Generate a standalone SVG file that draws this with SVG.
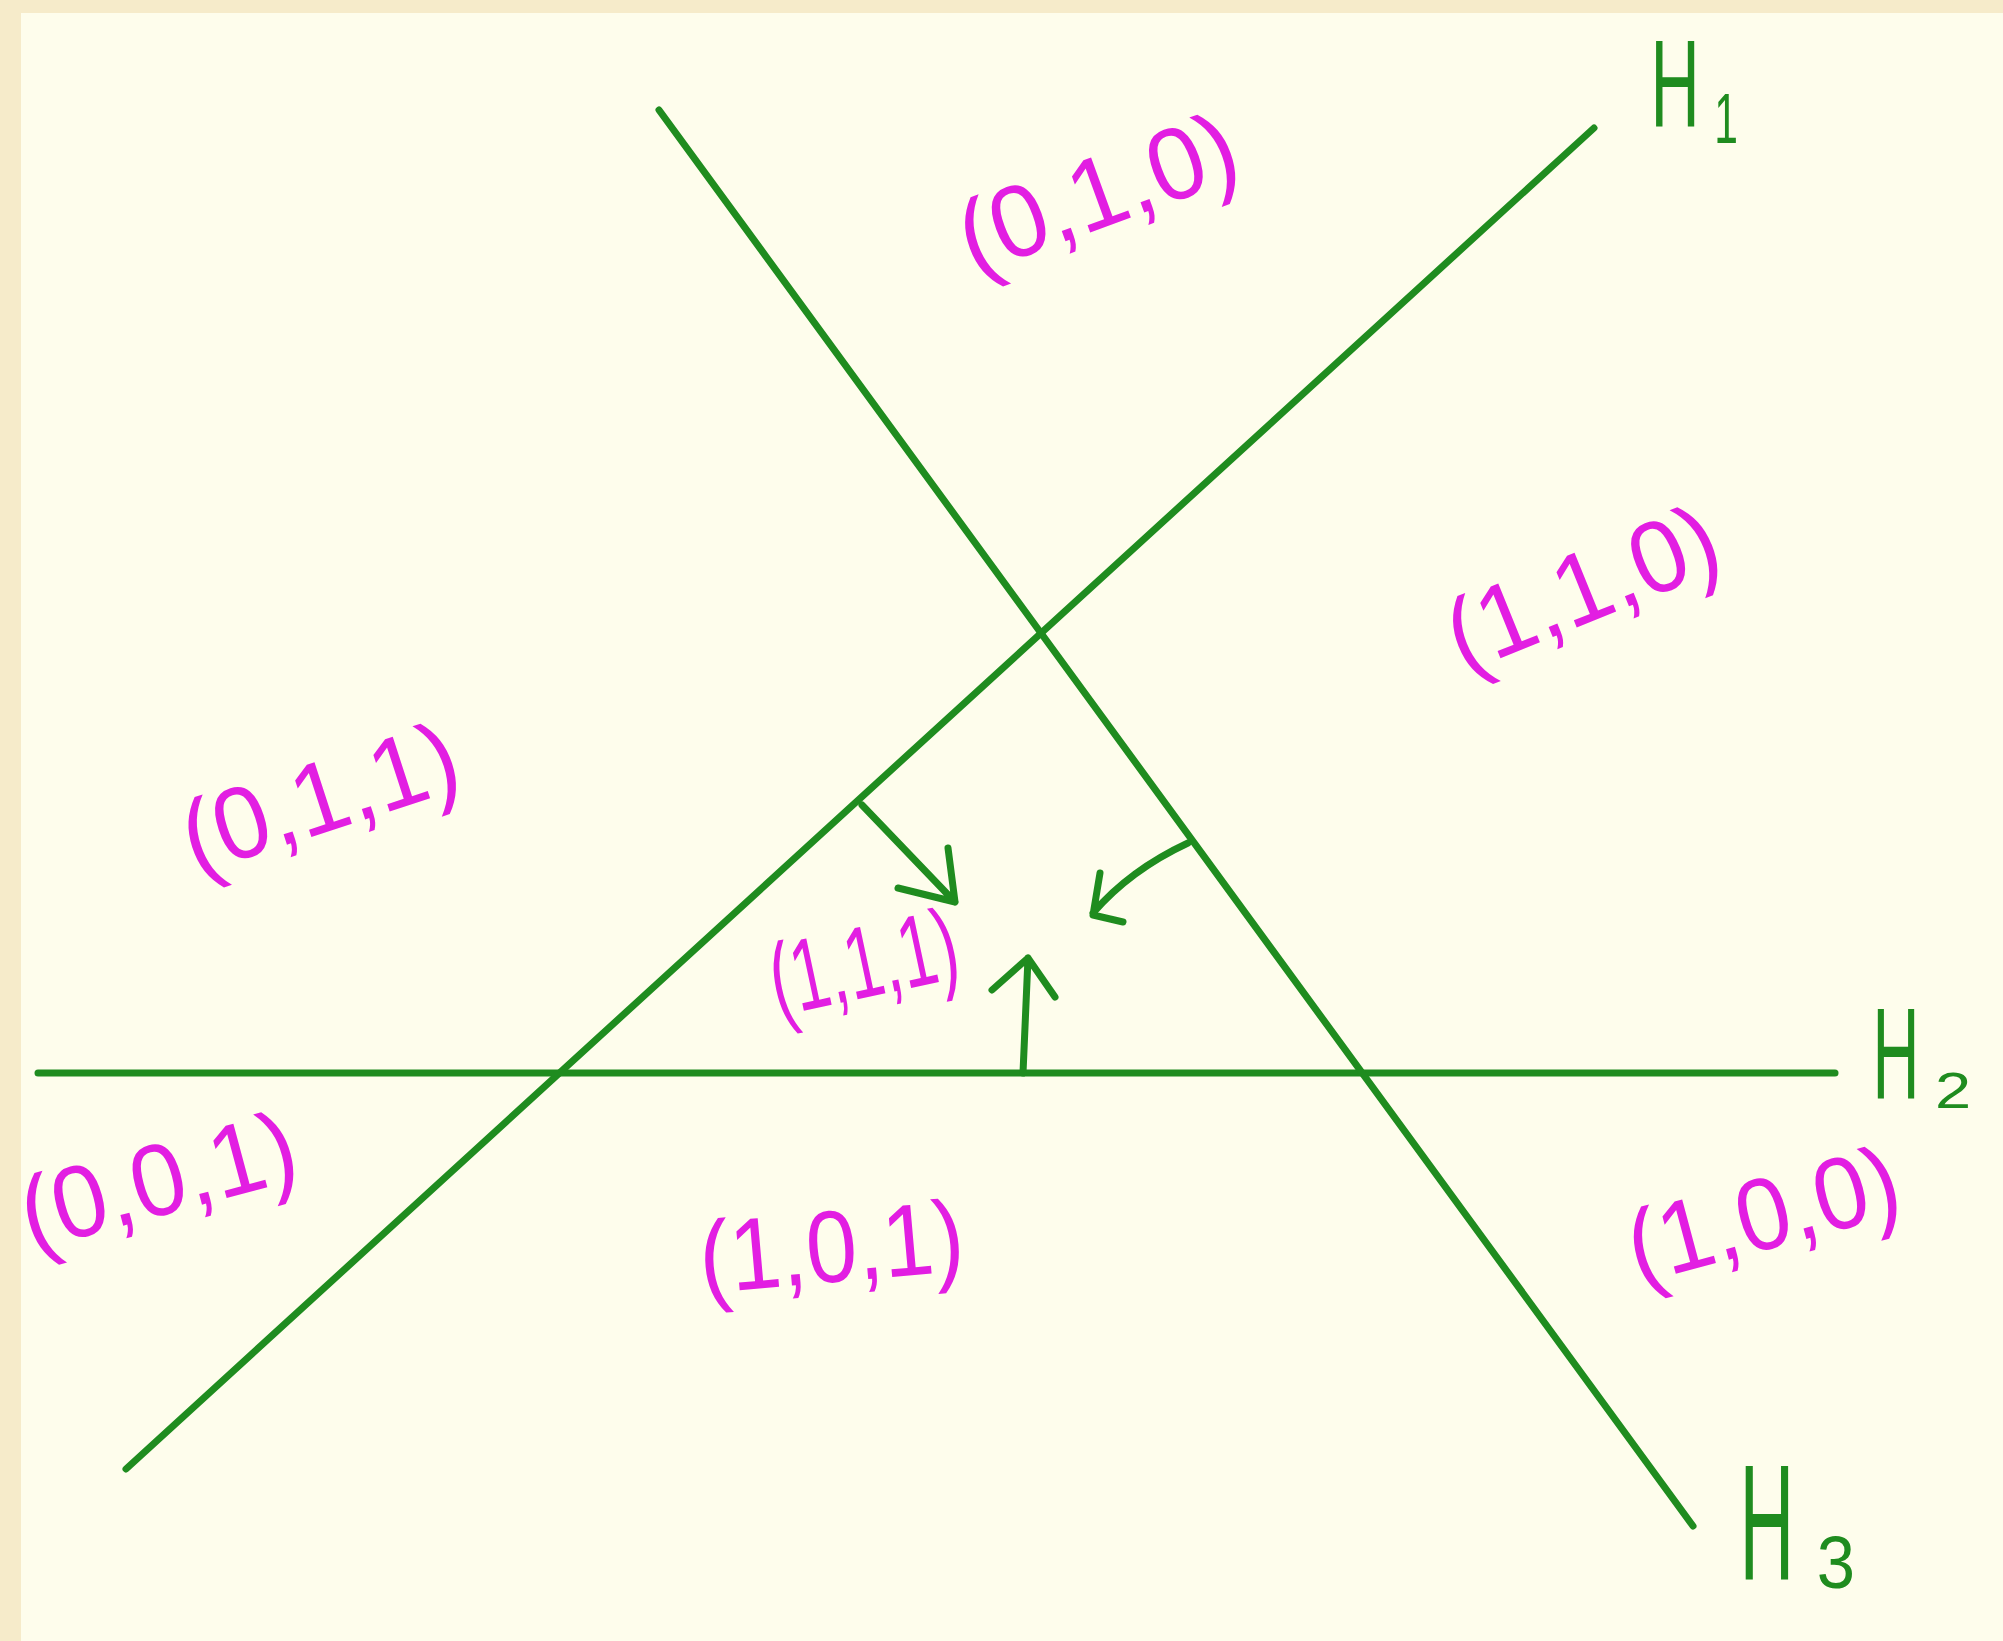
<svg xmlns="http://www.w3.org/2000/svg" width="2003" height="1641" viewBox="0 0 2003 1641">
<style>
.ln{stroke:#1f8c1f;stroke-width:7;stroke-linecap:round;stroke-linejoin:round;fill:none}
.hl{font-family:"Liberation Sans",Arial,sans-serif;fill:#1f8c1f;text-anchor:middle}
.tp{font-family:"Liberation Sans",Arial,sans-serif;fill:#e21ee2;text-anchor:middle;font-size:102px}
</style>
<rect x="0" y="0" width="2003" height="1641" fill="#f6ebca"/>
<rect x="21" y="13" width="1982" height="1628" fill="#fefdec"/>
<g id="hyperplanes">
<line class="ln" x1="126" y1="1469" x2="1594" y2="128"/>
<line class="ln" x1="38" y1="1073" x2="1835" y2="1073"/>
<line class="ln" x1="659" y1="110" x2="1693" y2="1526"/>
</g>
<g id="connectors">
<path class="ln" d="M862 805 L955 902 M898 888 L955 902 L948 848"/>
<path class="ln" d="M1188 843 Q1130 870 1093 913 M1100 873 L1093 915 L1123 922"/>
<path class="ln" d="M1023 1073 L1028 958 M992 990 L1028 958 L1055 997"/>
</g>
<g id="label-H1">
<text class="hl" font-size="124" transform="translate(1675,127) scale(0.55,1)">H</text>
<text class="hl" font-size="71" transform="translate(1726,143) scale(0.6,1)">1</text>
</g>
<g id="label-H2">
<text class="hl" font-size="130" transform="translate(1896,1098) scale(0.5,1)">H</text>
<text class="hl" font-size="50" transform="translate(1953,1108) scale(1.3,1)">2</text>
</g>
<g id="label-H3">
<text class="hl" font-size="165" transform="translate(1767,1580) scale(0.46,1)">H</text>
<text class="hl" font-size="74" transform="translate(1836,1588) scale(0.93,1)">3</text>
</g>
<g id="region-010"><text class="tp" transform="translate(1100,200) rotate(-20)" y="27" textLength="290" lengthAdjust="spacingAndGlyphs">(0,1,0)</text></g>
<g id="region-110"><text class="tp" transform="translate(1585,595) rotate(-22)" y="27" textLength="285" lengthAdjust="spacingAndGlyphs">(1,1,0)</text></g>
<g id="region-011"><text class="tp" transform="translate(322,805) rotate(-18)" y="27" textLength="285" lengthAdjust="spacingAndGlyphs">(0,1,1)</text></g>
<g id="region-111"><text class="tp" font-size="84" transform="translate(866,975) rotate(-12)" y="22" textLength="190" lengthAdjust="spacingAndGlyphs">(1,1,1)</text></g>
<g id="region-001"><text class="tp" transform="translate(160,1188) rotate(-15)" y="27" textLength="282" lengthAdjust="spacingAndGlyphs">(0,0,1)</text></g>
<g id="region-101"><text class="tp" transform="translate(832,1255) rotate(-5)" y="27" textLength="265" lengthAdjust="spacingAndGlyphs">(1,0,1)</text></g>
<g id="region-100"><text class="tp" transform="translate(1765,1222) rotate(-15)" y="27" textLength="278" lengthAdjust="spacingAndGlyphs">(1,0,0)</text></g>
</svg>
